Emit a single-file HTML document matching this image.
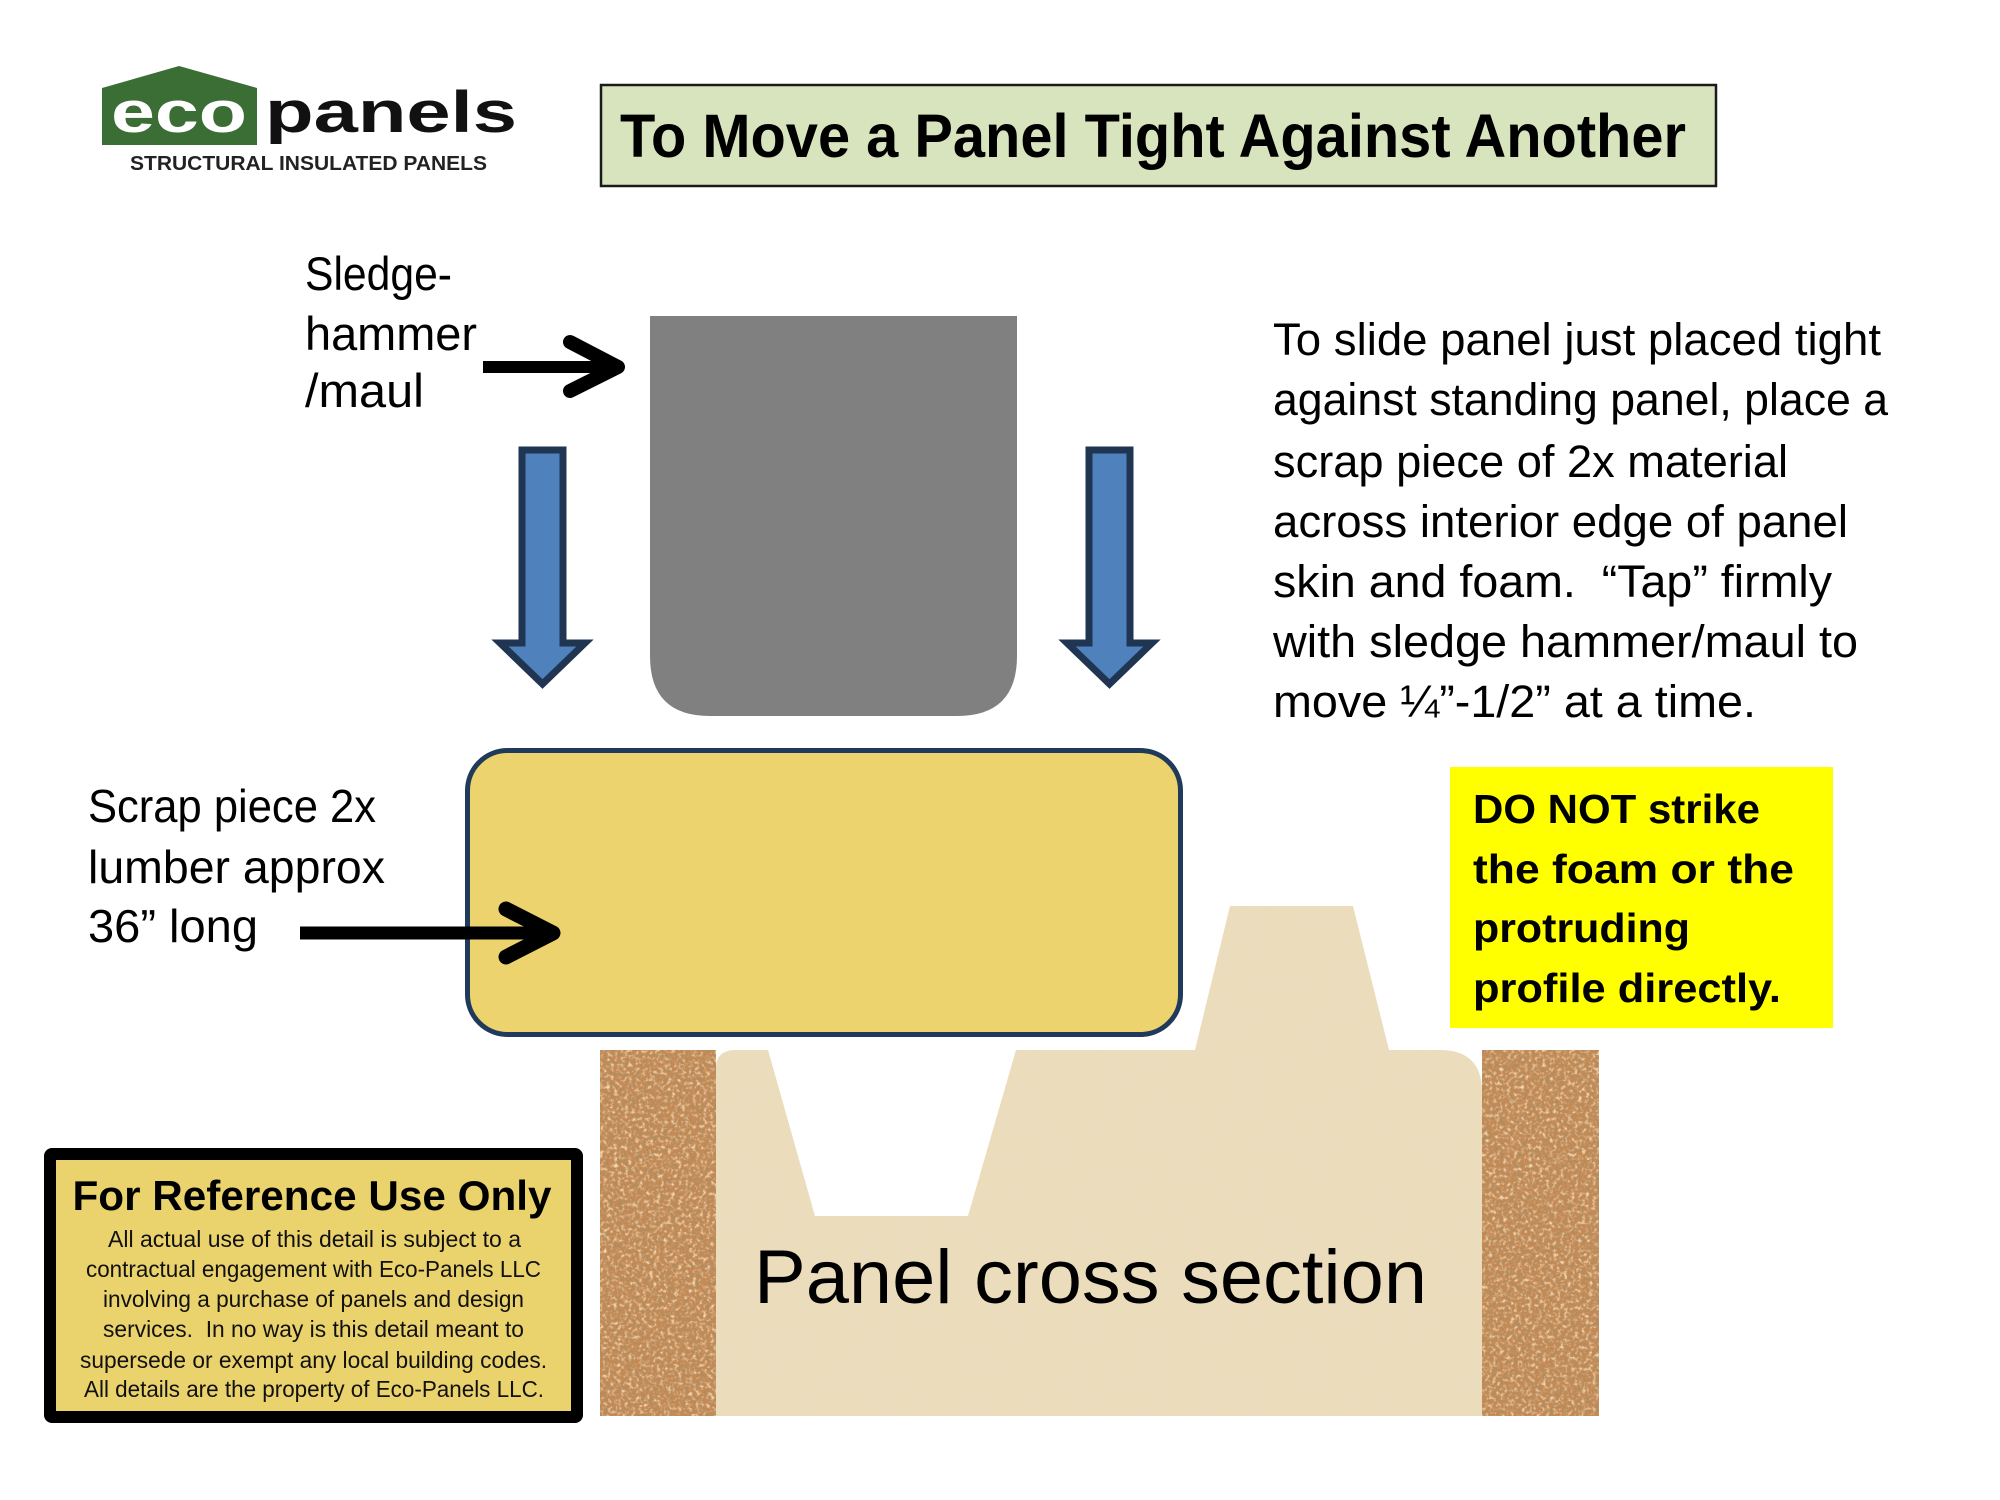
<!DOCTYPE html>
<html>
<head>
<meta charset="utf-8">
<style>
  html,body{margin:0;padding:0;background:#fff;}
  svg{display:block;}
  text{font-family:"Liberation Sans", Arial, sans-serif;}
</style>
</head>
<body>
<svg width="2000" height="1500" viewBox="0 0 2000 1500" xmlns="http://www.w3.org/2000/svg">
  <defs>
    <filter id="ck" x="0" y="0" width="1" height="1">
      <feTurbulence type="fractalNoise" baseFrequency="0.22" numOctaves="3" seed="7" result="n"/>
      <feColorMatrix in="n" type="matrix" values="0 0 0 0 0.45  0 0 0 0 0.26  0 0 0 0 0.11  3.4 0 0 0 -1.55"/>
      <feComposite in2="SourceGraphic" operator="in"/>
    </filter>
    <filter id="ck2" x="0" y="0" width="1" height="1">
      <feTurbulence type="fractalNoise" baseFrequency="0.28" numOctaves="2" seed="19" result="n"/>
      <feColorMatrix in="n" type="matrix" values="0 0 0 0 0.90  0 0 0 0 0.68  0 0 0 0 0.45  3.2 0 0 0 -1.5"/>
      <feComposite in2="SourceGraphic" operator="in"/>
    </filter>
    <filter id="fm" x="0" y="0" width="1" height="1">
      <feTurbulence type="fractalNoise" baseFrequency="0.03" numOctaves="3" seed="4" result="n"/>
      <feColorMatrix in="n" type="matrix" values="0 0 0 0 0.80  0 0 0 0 0.70  0 0 0 0 0.50  1.6 0 0 0 -0.7"/>
      <feComposite in2="SourceGraphic" operator="in"/>
    </filter>
  </defs>

  <rect x="0" y="0" width="2000" height="1500" fill="#ffffff"/>

  <!-- Logo -->
  <polygon points="102,88 179,66 257,88 257,145 102,145" fill="#3b6e35"/>
  <text x="111" y="132" font-size="58" font-weight="bold" fill="#ffffff" textLength="136" lengthAdjust="spacingAndGlyphs">eco</text>
  <text x="265" y="132" font-size="58" font-weight="bold" fill="#111111" textLength="252" lengthAdjust="spacingAndGlyphs">panels</text>
  <text x="130" y="170" font-size="20" font-weight="bold" fill="#222222" textLength="357" lengthAdjust="spacingAndGlyphs">STRUCTURAL INSULATED PANELS</text>

  <!-- Title -->
  <rect x="601" y="85" width="1115" height="101" fill="#d7e4bd" stroke="#1a1a1a" stroke-width="2.5"/>
  <text x="620" y="157" font-size="61" font-weight="bold" fill="#000" textLength="1066" lengthAdjust="spacingAndGlyphs">To Move a Panel Tight Against Another</text>

  <!-- Sledgehammer label -->
  <text x="305" y="290" font-size="47" fill="#000" textLength="147" lengthAdjust="spacingAndGlyphs">Sledge-</text>
  <text x="305" y="350" font-size="47" fill="#000" textLength="172" lengthAdjust="spacingAndGlyphs">hammer</text>
  <text x="305" y="407" font-size="47" fill="#000" textLength="119" lengthAdjust="spacingAndGlyphs">/maul</text>

  <!-- Sledge arrow -->
  <line x1="483" y1="367" x2="610" y2="367" stroke="#000" stroke-width="12"/>
  <polyline points="570,342 618,367 570,391" fill="none" stroke="#000" stroke-width="14" stroke-linecap="round" stroke-linejoin="round"/>

  <!-- Hammer -->
  <path d="M650 316 L1017 316 L1017 656 Q1017 716 957 716 L710 716 Q650 716 650 656 Z" fill="#808080"/>

  <!-- Blue arrows -->
  <polygon points="522,450 563,450 563,643 585,643 542.5,684 500,643 522,643" fill="#4f81bd" stroke="#1f3552" stroke-width="7" stroke-linejoin="miter"/>
  <polygon points="1089,450 1130,450 1130,643 1152,643 1109.5,684 1067,643 1089,643" fill="#4f81bd" stroke="#1f3552" stroke-width="7" stroke-linejoin="miter"/>

  <!-- Right paragraph -->
  <g font-size="45" fill="#000">
    <text x="1273" y="355" textLength="608" lengthAdjust="spacingAndGlyphs">To slide panel just placed tight</text>
    <text x="1273" y="415" textLength="615" lengthAdjust="spacingAndGlyphs">against standing panel, place a</text>
    <text x="1273" y="477" textLength="515" lengthAdjust="spacingAndGlyphs">scrap piece of 2x material</text>
    <text x="1273" y="537" textLength="575" lengthAdjust="spacingAndGlyphs">across interior edge of panel</text>
    <text x="1273" y="597" textLength="559" lengthAdjust="spacingAndGlyphs">skin and foam. &#160;“Tap” firmly</text>
    <text x="1273" y="657" textLength="585" lengthAdjust="spacingAndGlyphs">with sledge hammer/maul to</text>
    <text x="1273" y="717" textLength="483" lengthAdjust="spacingAndGlyphs">move ¼”-1/2” at a time.</text>
  </g>

  <!-- Wood scrap -->
  <rect x="467.5" y="750.5" width="713" height="284" rx="40" ry="40" fill="#edd36e" stroke="#1f3a5a" stroke-width="5"/>

  <!-- Scrap label -->
  <text x="88" y="822" font-size="46" fill="#000" textLength="288" lengthAdjust="spacingAndGlyphs">Scrap piece 2x</text>
  <text x="88" y="883" font-size="46" fill="#000" textLength="297" lengthAdjust="spacingAndGlyphs">lumber approx</text>
  <text x="88" y="942" font-size="46" fill="#000" textLength="170" lengthAdjust="spacingAndGlyphs">36” long</text>

  <!-- Scrap arrow -->
  <line x1="300" y1="933" x2="545" y2="933" stroke="#000" stroke-width="13"/>
  <polyline points="506,909 553,933 506,957" fill="none" stroke="#000" stroke-width="15" stroke-linecap="round" stroke-linejoin="round"/>

  <!-- DO NOT box -->
  <rect x="1450" y="767" width="383" height="261" fill="#ffff00"/>
  <g font-size="41" font-weight="bold" fill="#000">
    <text x="1473" y="823" textLength="287" lengthAdjust="spacingAndGlyphs">DO NOT strike</text>
    <text x="1473" y="883" textLength="321" lengthAdjust="spacingAndGlyphs">the foam or the</text>
    <text x="1473" y="942" textLength="217" lengthAdjust="spacingAndGlyphs">protruding</text>
    <text x="1473" y="1002" textLength="308" lengthAdjust="spacingAndGlyphs">profile directly.</text>
  </g>

  <!-- Panel cross section: cork skins -->
  <rect x="600" y="1050" width="116" height="366" fill="#c38a55"/>
  <rect x="600" y="1050" width="116" height="366" fill="#000" filter="url(#ck2)"/>
  <rect x="600" y="1050" width="116" height="366" fill="#000" filter="url(#ck)"/>
  <rect x="1482" y="1050" width="117" height="366" fill="#c38a55"/>
  <rect x="1482" y="1050" width="117" height="366" fill="#000" filter="url(#ck2)"/>
  <rect x="1482" y="1050" width="117" height="366" fill="#000" filter="url(#ck)"/>

  <!-- Foam -->
  <path d="M716 1416 L716 1068 Q716 1050 736 1050 L768 1050 L815 1216 L968 1216 L1016 1050 L1195 1050 L1230 906 L1353 906 L1389 1050 L1440 1050 Q1482 1050 1482 1092 L1482 1416 Z" fill="#ebddbc"/>
  <path d="M716 1416 L716 1068 Q716 1050 736 1050 L768 1050 L815 1216 L968 1216 L1016 1050 L1195 1050 L1230 906 L1353 906 L1389 1050 L1440 1050 Q1482 1050 1482 1092 L1482 1416 Z" fill="#000" filter="url(#fm)" opacity="0.35"/>

  <text x="754" y="1303" font-size="76" fill="#000" textLength="673" lengthAdjust="spacingAndGlyphs">Panel cross section</text>

  <!-- Reference box -->
  <rect x="44" y="1148" width="539" height="275" rx="8" ry="8" fill="#000"/>
  <rect x="56" y="1160" width="515" height="251" fill="#ead26c"/>
  <text x="72.5" y="1210" font-size="42" font-weight="bold" fill="#000" textLength="479" lengthAdjust="spacingAndGlyphs">For Reference Use Only</text>
  <g font-size="23" fill="#111">
    <text x="108" y="1247" textLength="413" lengthAdjust="spacingAndGlyphs">All actual use of this detail is subject to a</text>
    <text x="86" y="1277" textLength="455" lengthAdjust="spacingAndGlyphs">contractual engagement with Eco-Panels LLC</text>
    <text x="103" y="1307" textLength="421" lengthAdjust="spacingAndGlyphs">involving a purchase of panels and design</text>
    <text x="103" y="1337" textLength="421" lengthAdjust="spacingAndGlyphs">services. &#160;In no way is this detail meant to</text>
    <text x="80" y="1368" textLength="467" lengthAdjust="spacingAndGlyphs">supersede or exempt any local building codes.</text>
    <text x="84" y="1397" textLength="460" lengthAdjust="spacingAndGlyphs">All details are the property of Eco-Panels LLC.</text>
  </g>
</svg>
</body>
</html>
